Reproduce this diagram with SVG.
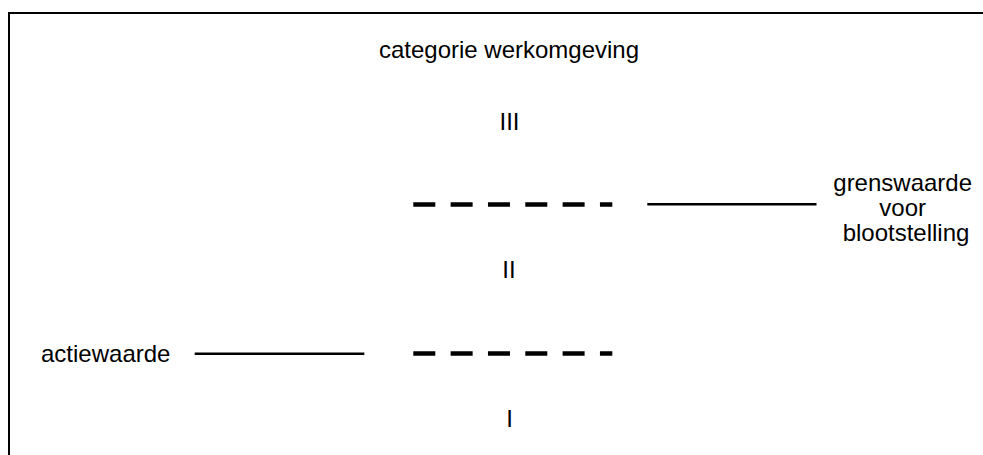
<svg xmlns="http://www.w3.org/2000/svg" width="983" height="455" viewBox="0 0 983 455">
  <style>
    .t { font-family: "Liberation Sans", Arial, sans-serif; font-size: 24px; fill: #000; }
    .frame { fill: none; stroke: #000; stroke-width: 2; }
    .level { stroke: #000; stroke-width: 4.5; stroke-dasharray: 22 15.33; fill: none; }
    .lead { stroke: #000; stroke-width: 2.5; fill: none; }
  </style>
  <rect width="983" height="455" fill="#fff"/>
  <!-- open frame: top and left edges -->
  <path class="frame" d="M9 455 V13 H983"/>

  <g id="title">
    <text class="t" x="509" y="58" text-anchor="middle">categorie werkomgeving</text>
  </g>
  <g id="cat-III">
    <text class="t" x="509.5" y="129.5" text-anchor="middle">III</text>
  </g>
  <g id="cat-II">
    <text class="t" x="509" y="278" text-anchor="middle">II</text>
  </g>
  <g id="cat-I">
    <text class="t" x="509.5" y="427" text-anchor="middle">I</text>
  </g>
  <g id="grenswaarde">
    <text class="t" text-anchor="middle">
      <tspan x="906" y="191">grenswaarde</tspan>
      <tspan x="906" y="216">voor</tspan>
      <tspan x="906" y="241">blootstelling</tspan>
    </text>
  </g>
  <g id="actiewaarde">
    <text class="t" x="41" y="362">actiewaarde</text>
  </g>

  <g id="connectors">
    <!-- category boundaries -->
    <line class="level" x1="413.3" y1="204.5" x2="612.3" y2="204.5"/>
    <line class="level" x1="413.3" y1="353.5" x2="612.3" y2="353.5"/>
    <!-- label leaders -->
    <line class="lead" x1="647.3" y1="204.3" x2="816.5" y2="204.3"/>
    <line class="lead" x1="194.7" y1="353.8" x2="364.3" y2="353.8"/>
  </g>
</svg>
